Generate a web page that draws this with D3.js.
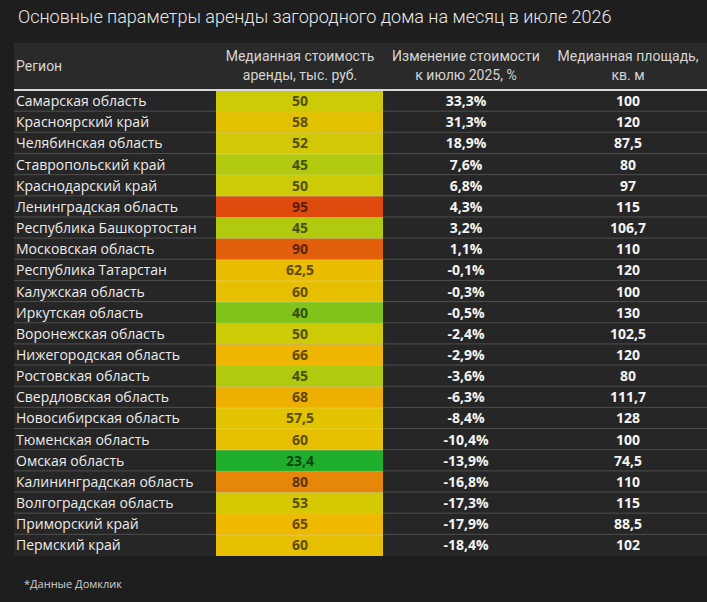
<!DOCTYPE html>
<html>
<head>
<meta charset="utf-8">
<script src="https://cdn.jsdelivr.net/npm/d3@7"></script>
<style>
  html, body { margin: 0; padding: 0; background: #1e1e1e; }
  svg { display: block; }
</style>
</head>
<body>
<div id="chart"></div>
<script>
const title = "Основные параметры аренды загородного дома на месяц в июле 2026";
const headers = [
    ["Регион"],
    ["Медианная стоимость", "аренды, тыс. руб."],
    ["Изменение стоимости", "к июлю 2025, %"],
    ["Медианная площадь,", "кв. м"]
];
const regions = [
    "Самарская область", "Красноярский край", "Челябинская область", "Ставропольский край",
    "Краснодарский край", "Ленинградская область", "Республика Башкортостан", "Московская область",
    "Республика Татарстан", "Калужская область", "Иркутская область", "Воронежская область",
    "Нижегородская область", "Ростовская область", "Свердловская область", "Новосибирская область",
    "Тюменская область", "Омская область", "Калининградская область", "Волгоградская область",
    "Приморский край", "Пермский край"
];
const rent = [50, 58, 52, 45, 50, 95, 45, 90, 62.5, 60, 40, 50, 66, 45, 68, 57.5, 60, 23.4, 80, 53, 65, 60];
const change = [33.3, 31.3, 18.9, 7.6, 6.8, 4.3, 3.2, 1.1, -0.1, -0.3, -0.5, -2.4, -2.9, -3.6, -6.3, -8.4, -10.4, -13.9, -16.8, -17.3, -17.9, -18.4];
const area = [100, 120, 87.5, 80, 97, 115, 106.7, 110, 120, 100, 130, 102.5, 120, 80, 111.7, 128, 100, 74.5, 110, 115, 88.5, 102];
const footnote = "*Данные Домклик";

const W = 707, H = 602;
const ru = d3.formatLocale({decimal: ",", thousands: " ", grouping: [3], currency: ["", ""], minus: "-"});
const fmtPct = ru.format(".1f");
const fmtNum = v => ru.format(",")(v);

const svg = d3.select("#chart").append("svg")
    .attr("width", W)
    .attr("height", H);

svg.append("rect").attr("width", W).attr("height", H).attr("fill", "#1e1e1e");

const tableLeft = 14, tableRight = W;
const y = d3.scaleBand()
    .domain(regions)
    .range([90.5, 556]);

// column centres
const col = {region: 16, rent: 300, change: 466, area: 628};
const rentX0 = 216, rentX1 = 383;

const color = d3.scaleLinear()
    .domain([23.4, 40, 47, 55, 65, 80, 95])
    .range(["#1fae2c", "#80c41a", "#c4cc0c", "#dcc600", "#efb900", "#e7870a", "#df4b0c"])
    .interpolate(d3.interpolateRgb);

// title
svg.append("text")
    .attr("x", 18)
    .attr("y", 23)
    .attr("fill", "#e8e8e8")
    .style("font", "300 18px Roboto")
    .text(title);

// header band
svg.append("rect")
    .attr("x", tableLeft).attr("y", 43)
    .attr("width", tableRight - tableLeft).attr("height", 47.5)
    .attr("fill", "#2a2a2a");

// table body
svg.append("rect")
    .attr("x", tableLeft).attr("y", 90.5)
    .attr("width", tableRight - tableLeft).attr("height", 556 - 90.5)
    .attr("fill", "#262626");

const hdr = svg.append("g")
    .attr("fill", "#d4d4d4")
    .style("font", "14px Roboto");

hdr.append("text")
    .attr("x", col.region).attr("y", 71)
    .text(headers[0][0]);

[col.rent, col.change, col.area].forEach((cx, i) => {
    headers[i + 1].forEach((line, j) => {
        hdr.append("text")
            .attr("x", cx)
            .attr("y", 61 + j * 19)
            .attr("text-anchor", "middle")
            .text(line);
    });
});

// row separators
const rows = svg.append("g");
rows.selectAll("line.sep")
    .data(regions.slice(1))
    .join("line")
    .attr("class", "sep")
    .attr("x1", tableLeft).attr("x2", tableRight)
    .attr("y1", d => y(d) - 0.5).attr("y2", d => y(d) - 0.5)
    .attr("stroke", "#4e4e4e")
    .attr("stroke-width", 1);

// header line
svg.append("line")
    .attr("x1", tableLeft).attr("x2", tableRight)
    .attr("y1", 90).attr("y2", 90)
    .attr("stroke", "#d8d8d8")
    .attr("stroke-width", 1.8);

// coloured rent cells
rows.selectAll("rect.cell")
    .data(regions)
    .join("rect")
    .attr("class", "cell")
    .attr("x", rentX0)
    .attr("y", d => y(d))
    .attr("width", rentX1 - rentX0)
    .attr("height", y.bandwidth())
    .attr("fill", (d, i) => color(rent[i]));

rows.selectAll("line.cellsep")
    .data(regions.slice(1))
    .join("line")
    .attr("class", "cellsep")
    .attr("x1", rentX0).attr("x2", rentX1)
    .attr("y1", d => y(d)).attr("y2", d => y(d))
    .attr("stroke", "rgba(255,250,190,0.35)")
    .attr("stroke-width", 1);

const mid = d => y(d) + y.bandwidth() / 2 + 5;

rows.selectAll("text.region")
    .data(regions)
    .join("text")
    .attr("class", "region")
    .attr("x", col.region)
    .attr("y", mid)
    .attr("fill", "#ececec")
    .style("font", "14px 'Open Sans'")
    .text(d => d);

rows.selectAll("text.rent")
    .data(regions)
    .join("text")
    .attr("class", "rent")
    .attr("x", col.rent)
    .attr("y", mid)
    .attr("text-anchor", "middle")
    .attr("fill", (d, i) => d3.color(color(rent[i])).darker(2.6))
    .style("font", "bold 14px 'Open Sans'")
    .text((d, i) => fmtNum(rent[i]));

rows.selectAll("text.change")
    .data(regions)
    .join("text")
    .attr("class", "change")
    .attr("x", col.change)
    .attr("y", mid)
    .attr("text-anchor", "middle")
    .attr("fill", "#f4f4f4")
    .style("font", "bold 14px 'Open Sans'")
    .text((d, i) => fmtPct(change[i]) + "%");

rows.selectAll("text.area")
    .data(regions)
    .join("text")
    .attr("class", "area")
    .attr("x", col.area)
    .attr("y", mid)
    .attr("text-anchor", "middle")
    .attr("fill", "#f4f4f4")
    .style("font", "bold 14px 'Open Sans'")
    .text((d, i) => fmtNum(area[i]));

svg.append("text")
    .attr("x", 24)
    .attr("y", 588)
    .attr("fill", "#d0d0d0")
    .style("font", "11px 'Open Sans'")
    .text(footnote);
</script>
</body>
</html>
